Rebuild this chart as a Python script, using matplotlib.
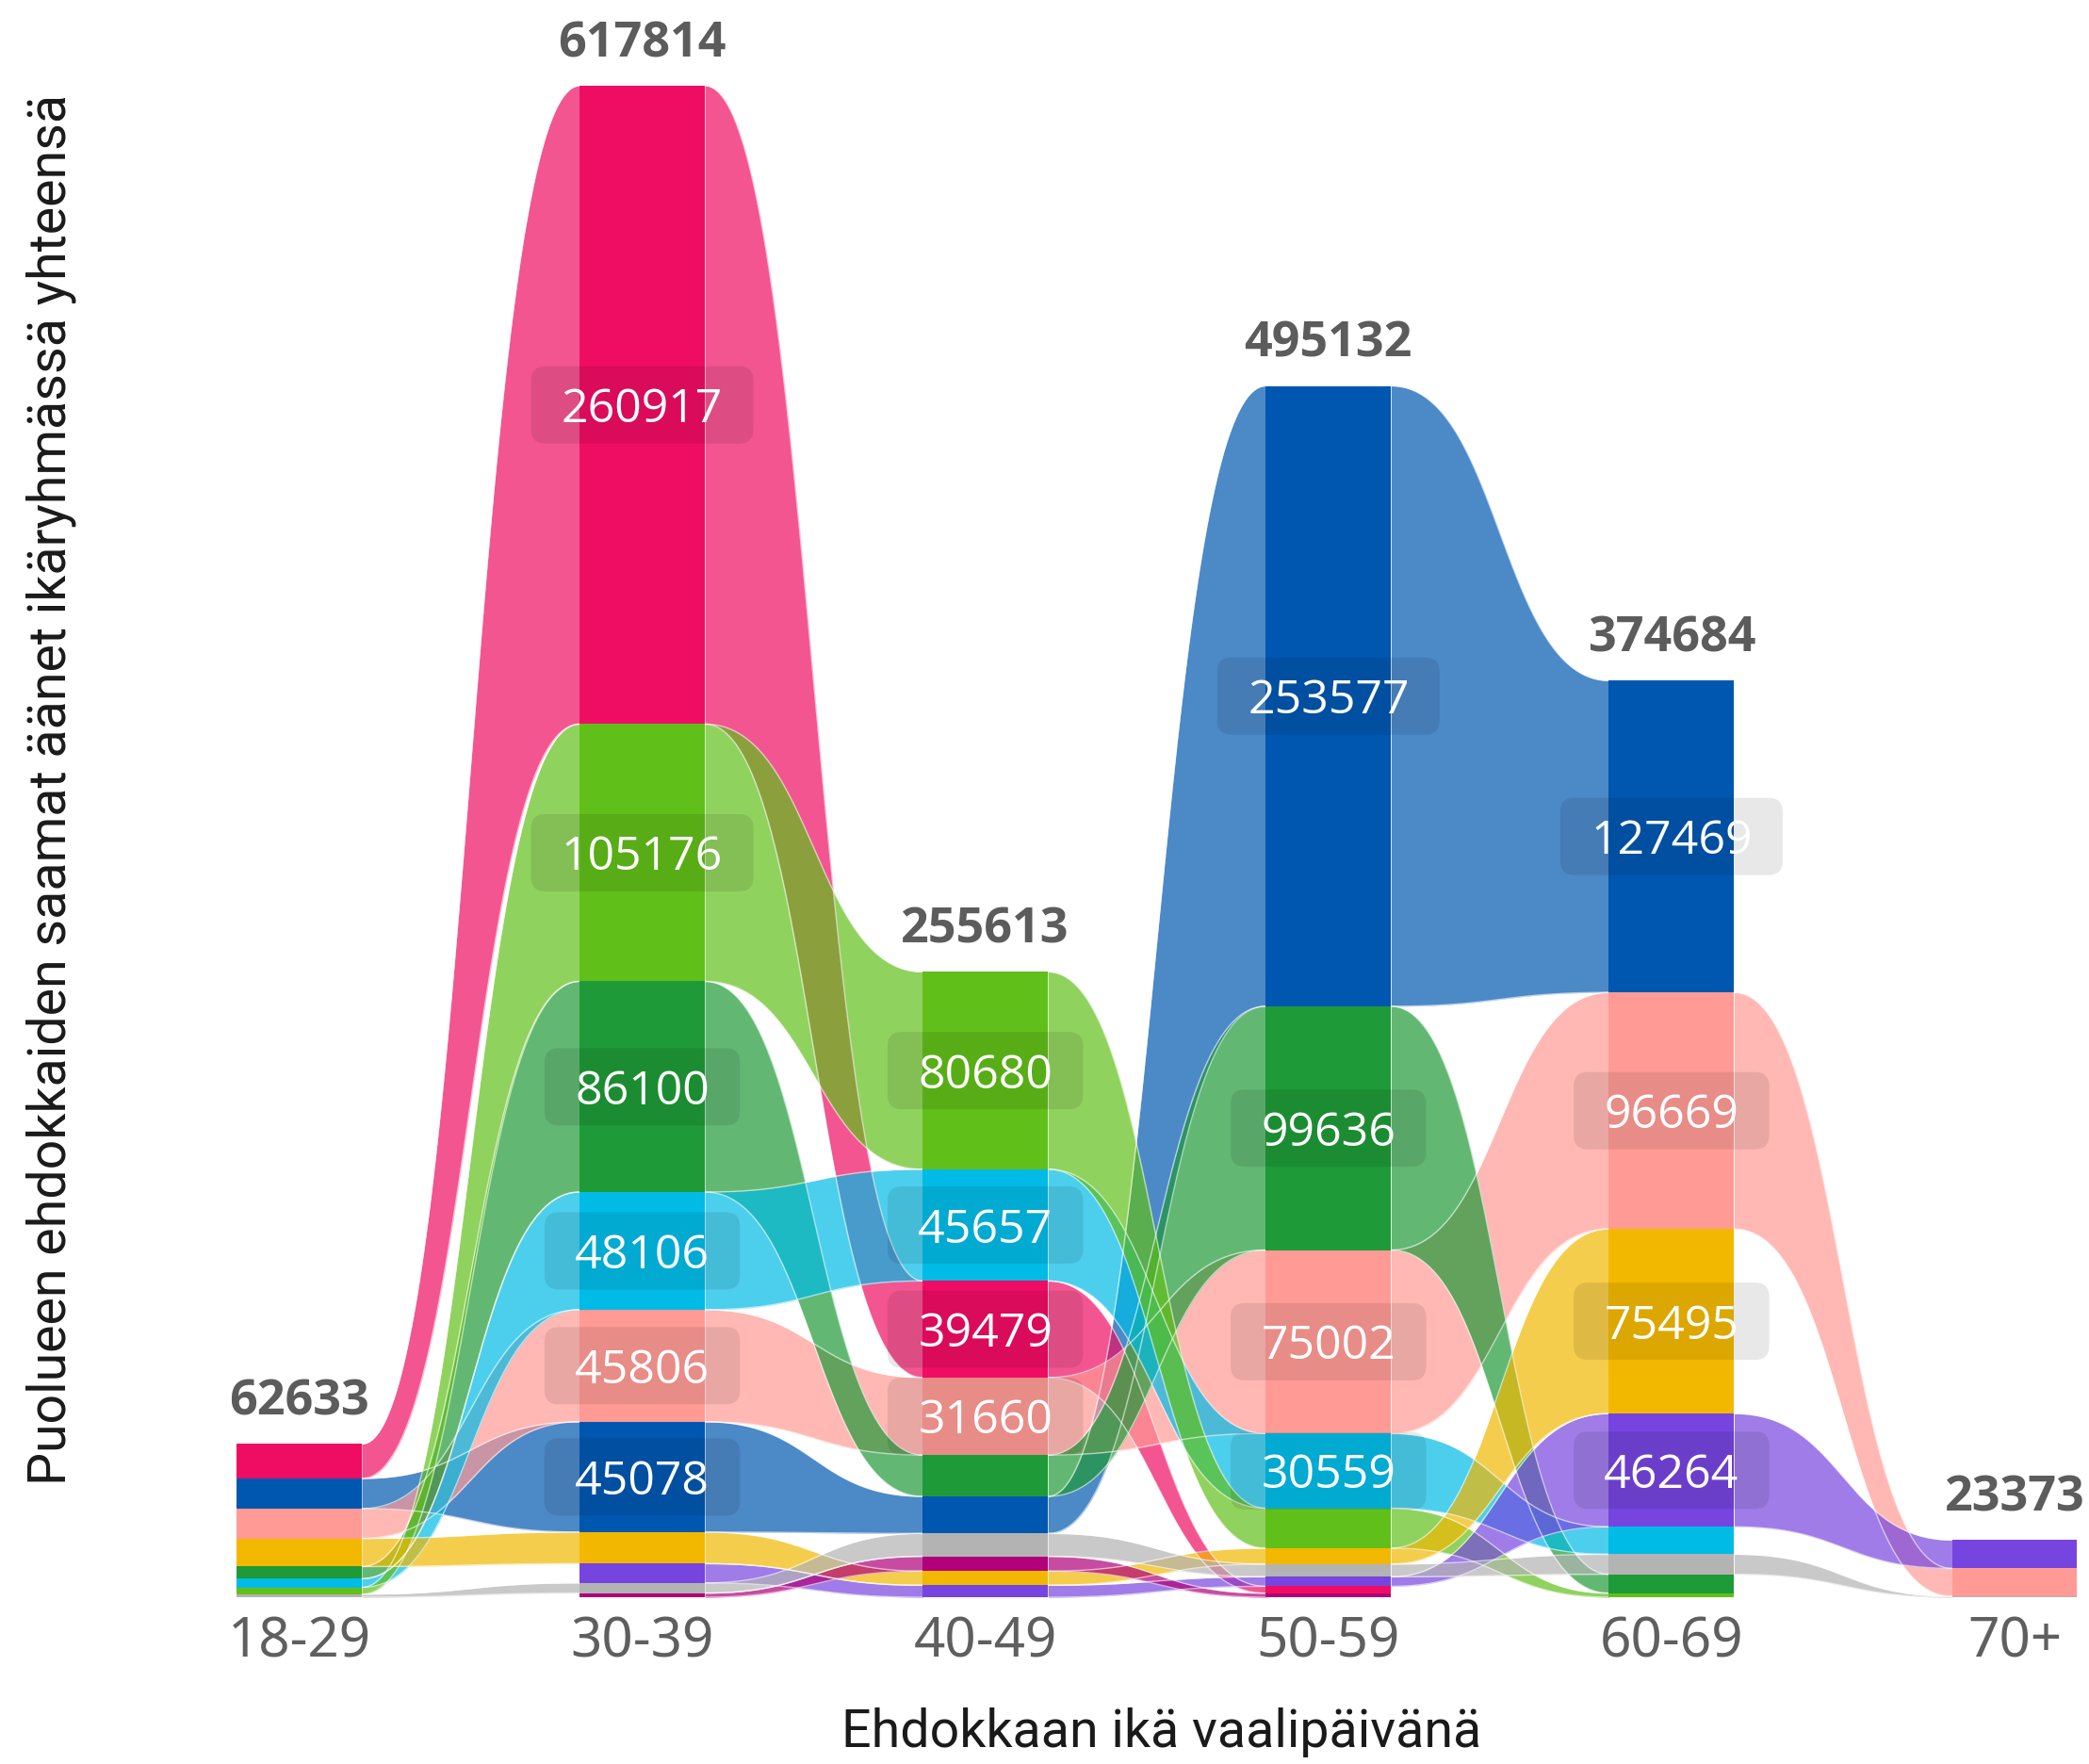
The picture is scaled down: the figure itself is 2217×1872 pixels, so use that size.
import numpy as np
import matplotlib
matplotlib.use('Agg')
import matplotlib.pyplot as plt
from matplotlib.patches import FancyBboxPatch

# ---------------- data ----------------
age_groups = ['18-29', '30-39', '40-49', '50-59', '60-69', '70+']
parties = ['VAS', 'KOK', 'SDP', 'PS', 'KESK', 'LIIK', 'VIHR', 'KD', 'MUUT', 'FP']
vas  = [14100, 260917, 39479, 2800, 0, 0]
kok  = [12300, 45078, 15150, 253577, 127469, 0]
sdp  = [12200, 45806, 31660, 75002, 96669, 11400]
ps   = [11500, 12900, 5780, 6500, 75495, 0]
kesk = [4950, 86100, 16917, 99636, 7700, 0]
liik = [3550, 48106, 45657, 30559, 11250, 0]
vihr = [2800, 105176, 80680, 16300, 1687, 0]
kd   = [0, 7900, 4880, 3900, 46264, 11600]
muut = [1233, 4150, 9370, 5200, 8150, 373]
fp   = [0, 1681, 6040, 1658, 0, 0]
party_colors = ['#EF0D63', '#0057B0', '#FF9A95', '#F2B800', '#1F9A38',
                '#00BBE6', '#61BF1A', '#7645DF', '#B3B3B3', '#B0007A']
draw_order = ['KOK', 'VAS', 'SDP', 'KESK', 'LIIK', 'VIHR', 'PS', 'KD', 'MUUT', 'FP']

values = np.array([vas, kok, sdp, ps, kesk, liik, vihr, kd, muut, fp], dtype=float)
n_p, n_g = values.shape
totals = values.sum(axis=0)

# stack: largest on top
bottoms = np.zeros_like(values)
for g in range(n_g):
    order = np.argsort(values[:, g], kind='stable')
    cum = 0.0
    for p in order:
        bottoms[p, g] = cum
        cum += values[p, g]
tops = bottoms + values

# ---------------- figure ----------------
W, H = 2217, 1872
fig = plt.figure(figsize=(W / 100, H / 100), dpi=100)
base_px, top_px = 1695, 91
ax = fig.add_axes([0, (H - base_px) / H, 1, (base_px - top_px) / H])
ax.set_xlim(-0.872, 5.217)
ax.set_ylim(0, totals.max())
for s in ax.spines.values():
    s.set_visible(False)
ax.set_yticks([])
ax.set_xticks(range(n_g))
ax.set_xticklabels(age_groups, fontsize=42, color='#5f5f5f',
                   family=['Noto Sans', 'DejaVu Sans'])
ax.tick_params(axis='x', length=0, pad=13)

hw = 0.1826
t = np.linspace(0, 1, 300)
sx = 1.5 * t - 1.5 * t ** 2 + t ** 3
sy = 3 * t ** 2 - 2 * t ** 3

# ribbons
for g in range(n_g - 1):
    x = (g + hw) + (1 - 2 * hw) * sx
    for name in draw_order:
        p = parties.index(name)
        if values[p, g] <= 0 or values[p, g + 1] <= 0:
            continue
        yt = tops[p, g] + (tops[p, g + 1] - tops[p, g]) * sy
        yb = bottoms[p, g] + (bottoms[p, g + 1] - bottoms[p, g]) * sy
        ax.fill_between(x, yb, yt, color=party_colors[p], alpha=0.7, lw=0)
        ax.plot(x, yt, color='white', lw=1.0, alpha=0.6)
        ax.plot(x, yb, color='white', lw=1.0, alpha=0.6)

# bars
for g in range(n_g):
    for p in range(n_p):
        if values[p, g] > 0:
            ax.bar(g, values[p, g], bottom=bottoms[p, g], width=2 * hw,
                   color=party_colors[p], lw=0, zorder=3)

# label boxes + numbers
p0 = ax.transData.transform((0, 0))
p1 = ax.transData.transform((1, 100000))
px_x = p1[0] - p0[0]
px_y = (p1[1] - p0[1]) / 100000
aspect = px_x / px_y
box_h = 82 / px_y
for g in range(n_g):
    for p in range(n_p):
        v = values[p, g]
        if v < 25000:
            continue
        c = (bottoms[p, g] + tops[p, g]) / 2
        s = str(int(v))
        bw = (len(s) * 28.5 + 65) / px_x
        box = FancyBboxPatch((g - bw / 2, c - box_h / 2), bw, box_h,
                             boxstyle='round,pad=0,rounding_size=%f' % (15 / px_x),
                             mutation_aspect=aspect, fc=(0, 0, 0, 0.09), ec='none',
                             zorder=4)
        ax.add_patch(box)
        ax.annotate(s, (g, c), xytext=(0, -13.3), textcoords='offset points',
                    ha='center', va='baseline', color='white', fontsize=36,
                    family=['Open Sans', 'DejaVu Sans'], zorder=5)

for g in range(n_g):
    ax.annotate(str(int(totals[g])), (g, totals[g]), xytext=(0, 22.3),
                textcoords='offset points', ha='center', va='baseline',
                fontsize=37.5, fontweight='bold', color='#5c5c5c',
                family=['Open Sans', 'DejaVu Sans'], annotation_clip=False, zorder=6)

label_font = ['Liberation Sans Narrow', 'Roboto', 'DejaVu Sans']
fig.text(0.556, 0.0095, 'Ehdokkaan ikä vaalipäivänä', ha='center', va='baseline',
         fontsize=40, color='#1a1a1a', family=label_font)
fig.text(0.0244, 0.5524, 'Puolueen ehdokkaiden saamat äänet ikäryhmässä yhteensä',
         rotation=90, ha='center', va='center', fontsize=40, color='#1a1a1a',
         family=label_font)

fig.savefig('out.png', dpi=100, facecolor='white')
